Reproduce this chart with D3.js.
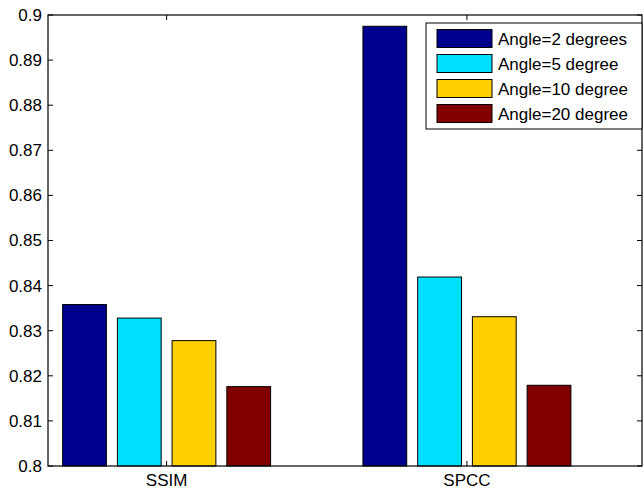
<!DOCTYPE html>
<html>
<head>
<meta charset="utf-8">
<script src="https://cdn.jsdelivr.net/npm/d3@7"></script>
<style>
  body { margin: 0; background: #fff; }
  text { font-family: "Liberation Sans", Arial, sans-serif; fill: #000; }
</style>
</head>
<body>
<div id="chart"></div>
<script>
// Data
const categories = ["SSIM", "SPCC"];
const seriesNames = ["Angle=2 degrees", "Angle=5 degree", "Angle=10 degree", "Angle=20 degree"];
const seriesColors = ["#00008f", "#00dfff", "#ffcf00", "#800000"];
const values = [
    [0.8358, 0.8975],   // Angle=2
    [0.8328, 0.8419],   // Angle=5
    [0.8278, 0.8331],   // Angle=10
    [0.8176, 0.8179]    // Angle=20
];
const yTicks = [0.8, 0.81, 0.82, 0.83, 0.84, 0.85, 0.86, 0.87, 0.88, 0.89, 0.9];
const yLimits = [0.8, 0.9];
const xLimits = [0.605, 2.583];   // category index range shown on the x axis

const W = 644, H = 491;
const margin = { top: 15, right: 2, bottom: 25, left: 48 };
const fontSize = 17;

const svg = d3.select("#chart").append("svg")
    .attr("width", W)
    .attr("height", H);

const x = d3.scaleLinear().domain(xLimits).range([margin.left, W - margin.right]);
const y = d3.scaleLinear().domain(yLimits).range([H - margin.bottom, margin.top]);

// bars inside a group
const groupWidth = 0.729; // in category units
const x1 = d3.scaleBand()
    .domain(d3.range(seriesNames.length))
    .range([-groupWidth / 2, groupWidth / 2])
    .paddingInner(0.2)
    .paddingOuter(0.1);

const bars = [];
values.forEach((row, s) => {
    row.forEach((v, c) => bars.push({ s: s, c: c, v: v }));
});

svg.append("g").selectAll("rect")
    .data(bars)
    .enter()
    .append("rect")
    .attr("x", d => x(d.c + 1 + x1(d.s)))
    .attr("width", d => x(d.c + 1 + x1(d.s) + x1.bandwidth()) - x(d.c + 1 + x1(d.s)))
    .attr("y", d => y(d.v))
    .attr("height", d => y(yLimits[0]) - y(d.v))
    .style("fill", d => seriesColors[d.s])
    .style("stroke", "#000")
    .style("stroke-width", 1);

// axes box
const x0 = x(xLimits[0]), xR = x(xLimits[1]);
const yB = y(yLimits[0]), yT = y(yLimits[1]);
svg.append("rect")
    .attr("x", x0).attr("y", yT)
    .attr("width", xR - x0).attr("height", yB - yT)
    .style("fill", "none")
    .style("stroke", "#000")
    .style("stroke-width", 1.2);

// y ticks, inward on both sides
const tickLen = 5;
const yt = svg.append("g");
yTicks.forEach(t => {
    yt.append("line")
        .attr("x1", x0).attr("x2", x0 + tickLen)
        .attr("y1", y(t)).attr("y2", y(t))
        .style("stroke", "#000");
    yt.append("line")
        .attr("x1", xR).attr("x2", xR - tickLen)
        .attr("y1", y(t)).attr("y2", y(t))
        .style("stroke", "#000");
    yt.append("text")
        .attr("x", x0 - 6)
        .attr("y", y(t))
        .attr("dy", "0.35em")
        .attr("text-anchor", "end")
        .style("font-size", fontSize + "px")
        .text(d3.format("")(t));
});

// x ticks and labels
categories.forEach((c, i) => {
    const cx = x(i + 1);
    svg.append("line")
        .attr("x1", cx).attr("x2", cx)
        .attr("y1", yB).attr("y2", yB - tickLen)
        .style("stroke", "#000");
    svg.append("line")
        .attr("x1", cx).attr("x2", cx)
        .attr("y1", yT).attr("y2", yT + tickLen)
        .style("stroke", "#000");
    svg.append("text")
        .attr("x", cx)
        .attr("y", yB + 20)
        .attr("text-anchor", "middle")
        .style("font-size", fontSize + "px")
        .text(c);
});

// legend
const legend = svg.append("g").attr("transform", "translate(426,23)");
legend.append("rect")
    .attr("width", xR - 426)
    .attr("height", 106)
    .style("fill", "#fff")
    .style("stroke", "#000")
    .style("stroke-width", 1);

const items = legend.selectAll(".legend-item")
    .data(seriesNames)
    .enter()
    .append("g")
    .attr("class", "legend-item")
    .attr("transform", (d, i) => `translate(11,${6.5 + i * 25})`);

items.append("rect")
    .attr("width", 55)
    .attr("height", 18)
    .style("fill", (d, i) => seriesColors[i])
    .style("stroke", "#000");

items.append("text")
    .attr("x", 61)
    .attr("y", 9)
    .attr("dy", "0.36em")
    .style("font-size", fontSize + "px")
    .text(d => d);
</script>
</body>
</html>
